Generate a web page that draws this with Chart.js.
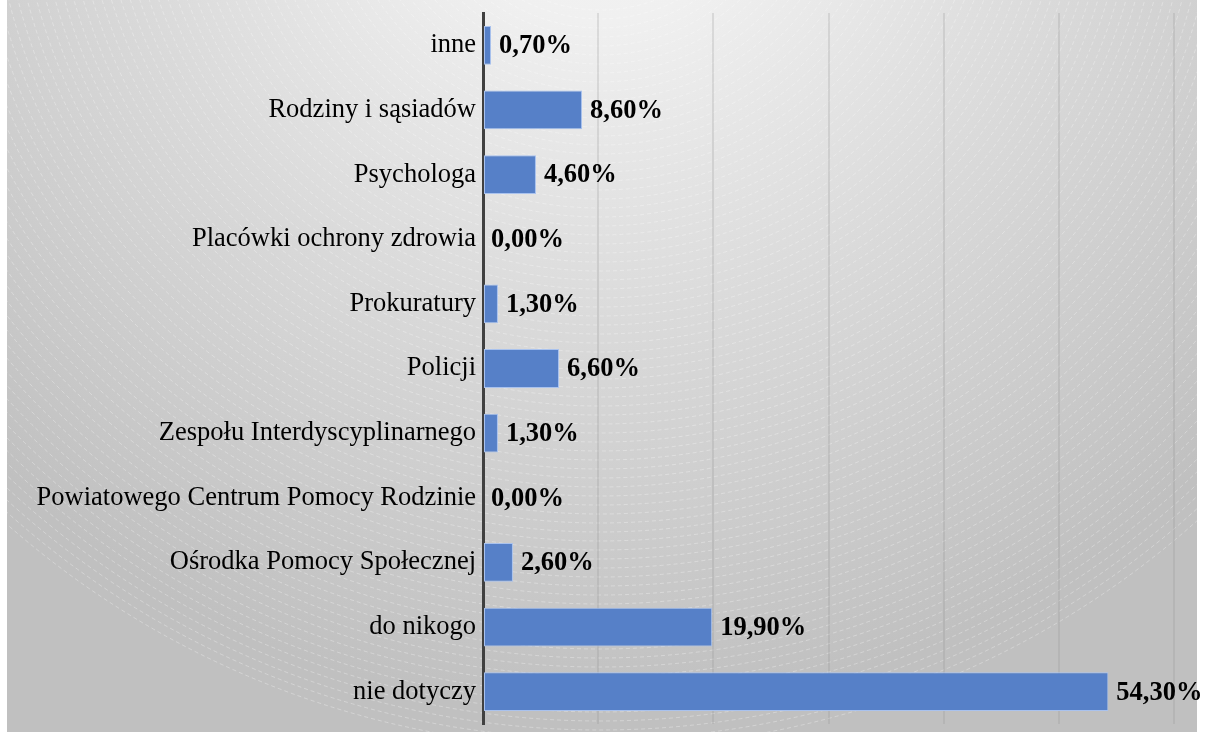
<!DOCTYPE html>
<html>
<head>
<meta charset="utf-8">
<script src="https://cdn.jsdelivr.net/npm/chart.js@4/dist/chart.umd.min.js"></script>
<style>
  html, body { margin: 0; padding: 0; background: #fff; }
  canvas { display: block; }
</style>
</head>
<body>
<canvas id="chart" width="1205" height="733"></canvas>
<script>
const labels = [
  "inne",
  "Rodziny i sąsiadów",
  "Psychologa",
  "Placówki ochrony zdrowia",
  "Prokuratury",
  "Policji",
  "Zespołu Interdyscyplinarnego",
  "Powiatowego Centrum Pomocy Rodzinie",
  "Ośrodka Pomocy Społecznej",
  "do nikogo",
  "nie dotyczy"
];
const values = [0.7, 8.6, 4.6, 0.0, 1.3, 6.6, 1.3, 0.0, 2.6, 19.9, 54.3];
const xTicks = [0, 10, 20, 30, 40, 50, 60];

const fontFamily = "'Liberation Serif', 'Times New Roman', serif";

// tło: szary gradient radialny z przerywanymi łukami
const backdrop = {
  id: "backdrop",
  beforeDraw(chart) {
    const c = chart.ctx;
    c.save();
    c.fillStyle = "#ffffff";
    c.fillRect(0, 0, chart.width, chart.height);
    const cx = 600, cy = -150;
    const g = c.createRadialGradient(cx, cy, 0, cx, cy, 860);
    g.addColorStop(0, "#f4f4f4");
    g.addColorStop(0.2, "#f0f0f0");
    g.addColorStop(0.55, "#dadada");
    g.addColorStop(1, "#c0c0c0");
    c.fillStyle = g;
    c.fillRect(7, 0, 1190, 732);
    c.beginPath();
    c.rect(7, 0, 1190, 732);
    c.clip();
    c.strokeStyle = "rgba(255,255,255,0.3)";
    c.lineWidth = 1;
    c.setLineDash([4, 3]);
    for (let r = 160; r < 900; r += 9) {
      c.beginPath();
      c.arc(cx, cy, r, 0, Math.PI * 2);
      c.stroke();
    }
    c.restore();
  }
};

// etykiety wartości przy końcach słupków
const valueLabels = {
  id: "valueLabels",
  afterDatasetsDraw(chart) {
    const c = chart.ctx;
    const meta = chart.getDatasetMeta(0);
    c.save();
    c.font = "bold 26.5px " + fontFamily;
    c.fillStyle = "#000";
    c.textAlign = "left";
    c.textBaseline = "middle";
    meta.data.forEach((bar, i) => {
      const txt = values[i].toFixed(2).replace(".", ",") + "%";
      c.fillText(txt, bar.x + 8, bar.y + 1);
    });
    c.restore();
  }
};

new Chart(document.getElementById("chart"), {
  type: "bar",
  data: {
    labels,
    datasets: [{
      data: values,
      backgroundColor: "#5680c8",
      borderColor: "#a9c2ee",
      borderWidth: 1,
      borderSkipped: false,
      barPercentage: 0.6,
      categoryPercentage: 1
    }]
  },
  options: {
    indexAxis: "y",
    responsive: false,
    animation: false,
    layout: { padding: { top: 13, bottom: 9, left: 0, right: 31 } },
    plugins: {
      legend: { display: false },
      tooltip: { enabled: false }
    },
    scales: {
      x: {
        min: 0,
        max: 60,
        afterBuildTicks(scale) {
          scale.ticks = xTicks.map(v => ({ value: v }));
        },
        afterFit(scale) {
          scale.height = 0;
          scale.paddingLeft = 0;
          scale.paddingRight = 0;
        },
        ticks: { display: false },
        border: { display: false },
        grid: { color: "rgba(140,140,140,0.22)", lineWidth: 2, drawTicks: false }
      },
      y: {
        afterFit(scale) {
          scale.width = 483;
          scale.paddingTop = 0;
          scale.paddingBottom = 0;
        },
        ticks: {
          color: "#000",
          padding: 7,
          font: { family: fontFamily, size: 26.5 }
        },
        grid: { display: false, drawTicks: false },
        border: { color: "#404040", width: 3 }
      }
    }
  },
  plugins: [backdrop, valueLabels]
});
</script>
</body>
</html>
